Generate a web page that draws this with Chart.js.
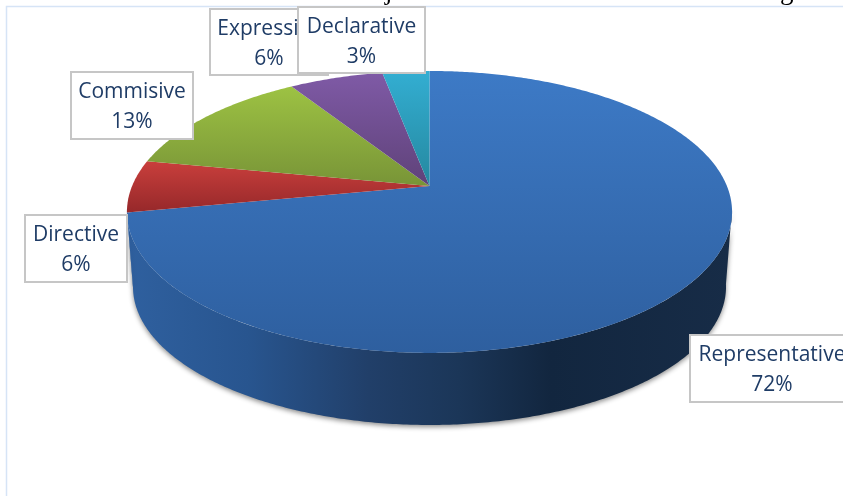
<!DOCTYPE html>
<html>
<head>
<meta charset="utf-8">
<title>Speech acts</title>
<style>
  html, body { margin: 0; padding: 0; background: #fff; overflow: hidden; }
  #wrap { position: absolute; left: 0; top: 0; width: 843px; height: 496px; }
</style>
</head>
<body>
<div id="wrap"><canvas id="pie" width="843" height="496"></canvas></div>
<script src="https://cdn.jsdelivr.net/npm/chart.js@4"></script>
<script>
const categories = ['Representative', 'Directive', 'Commisive', 'Expressive', 'Declarative'];
const percents = [72, 6, 13, 6, 3];
const sliceColors = ['#3d7ac6', '#c93f3c', '#9dc243', '#7f5aa6', '#33aed2'];
const sliceDark = ['#2e5f9f', '#96282a', '#789437', '#5f4279', '#25889f'];

// label boxes, drawn in this order because Declarative sits on top of Expressive
const labelOrder = [1, 2, 0, 3, 4];
const labelBoxes = {
    0: [690, 335, 164, 67],
    1: [25, 215, 102, 67],
    2: [71, 72, 122, 67],
    3: [210, 9, 118, 66],
    4: [298, 7, 127, 66]
};

// the reference pie is in perspective: the far half is squashed
const apexX = 429.5, apexY = 186;
const radiusX = 297.4, radiusY = 136.2, tilt = 0.184;
const depth = 75.4, wallScale = 0.98;

// project a chart angle on to the tilted disc
function project(angle, dy, scale) {
    const u = Math.cos(angle), v = Math.sin(angle);
    const d = 1 - tilt * v;
    return [apexX + radiusX * scale * u / d, apexY + dy + radiusY * scale * v / d];
}

function traceArc(ctx, from, to, dy, scale, move) {
    const steps = Math.max(2, Math.ceil(Math.abs(to - from) / 0.01));
    for (let i = 0; i <= steps; i++) {
        const p = project(from + (to - from) * i / steps, dy, scale);
        if (i === 0 && move) ctx.moveTo(p[0], p[1]); else ctx.lineTo(p[0], p[1]);
    }
}

const frontFrom = Math.asin(tilt) - 0.02;
const frontTo = Math.PI - frontFrom;

const piePerspective = {
    id: 'piePerspective',
    beforeDatasetsDraw(chart) {
        const ctx = chart.ctx;
        const arcs = chart.getDatasetMeta(0).data;

        // outer wall, only the part facing the viewer
        arcs.forEach((arc) => {
            const from = Math.max(arc.startAngle, frontFrom), to = Math.min(arc.endAngle, frontTo);
            if (to <= from) return;
            const wall = ctx.createLinearGradient(127, 0, 732, 0);
            wall.addColorStop(0, '#2f609f');
            wall.addColorStop(0.2, '#28558f');
            wall.addColorStop(0.4, '#213f69');
            wall.addColorStop(0.55, '#1b3658');
            wall.addColorStop(0.7, '#12263f');
            wall.addColorStop(1, '#172c47');
            ctx.save();
            ctx.shadowColor = 'rgba(0,0,0,0.45)';
            ctx.shadowBlur = 5;
            ctx.shadowOffsetY = 2;
            ctx.fillStyle = wall;
            ctx.beginPath();
            traceArc(ctx, from, to, 0, 1, true);
            traceArc(ctx, to, from, depth, wallScale, false);
            ctx.closePath();
            ctx.fill();
            ctx.restore();
        });

        // top face
        arcs.forEach((arc, i) => {
            let top = Infinity, bottom = -Infinity;
            for (let k = 0; k <= 40; k++) {
                const y = project(arc.startAngle + (arc.endAngle - arc.startAngle) * k / 40, 0, 1)[1];
                top = Math.min(top, y);
                bottom = Math.max(bottom, y);
            }
            bottom = Math.max(bottom, apexY);
            const face = ctx.createLinearGradient(0, top, 0, bottom);
            face.addColorStop(0, sliceColors[i]);
            face.addColorStop(1, sliceDark[i]);
            ctx.fillStyle = face;
            ctx.beginPath();
            ctx.moveTo(apexX, apexY);
            traceArc(ctx, arc.startAngle, arc.endAngle, 0, 1, false);
            ctx.closePath();
            ctx.fill();
        });
        return false;
    },
    afterDraw(chart) {
        const ctx = chart.ctx;
        ctx.textAlign = 'center';
        ctx.textBaseline = 'middle';
        labelOrder.forEach((i) => {
            const b = labelBoxes[i];
            ctx.fillStyle = '#fff';
            ctx.strokeStyle = '#c6c6c6';
            ctx.lineWidth = 2;
            ctx.fillRect(b[0], b[1], b[2], b[3]);
            ctx.strokeRect(b[0], b[1], b[2], b[3]);
            ctx.fillStyle = '#1f3c66';
            ctx.font = '21px "Open Sans"';
            const cx = b[0] + b[2] / 2;
            ctx.fillText(categories[i], cx, b[1] + 20);
            ctx.fillText(percents[i] + '%', cx, b[1] + 50);
        });
    }
};

const framePlugin = {
    id: 'frame',
    beforeDraw(chart) {
        const ctx = chart.ctx;
        ctx.strokeStyle = '#d6e4f6';
        ctx.lineWidth = 1.5;
        ctx.beginPath();
        ctx.moveTo(6.5, 496);
        ctx.lineTo(6.5, 6.5);
        ctx.lineTo(843, 6.5);
        ctx.stroke();
        // descenders of the page text cut off by the top edge
        ctx.fillStyle = '#000';
        ctx.font = '27px "Liberation Serif"';
        ctx.textAlign = 'left';
        ctx.textBaseline = 'alphabetic';
        ctx.fillText('j', 385, -1);
        ctx.fillText('g', 780, -1);
    }
};

new Chart(document.getElementById('pie'), {
    type: 'pie',
    data: {
        labels: categories,
        datasets: [{ data: percents, backgroundColor: sliceColors, borderWidth: 0 }]
    },
    options: {
        responsive: false,
        animation: false,
        plugins: { legend: { display: false }, tooltip: { enabled: false } }
    },
    plugins: [framePlugin, piePerspective]
});
</script>
</body>
</html>
